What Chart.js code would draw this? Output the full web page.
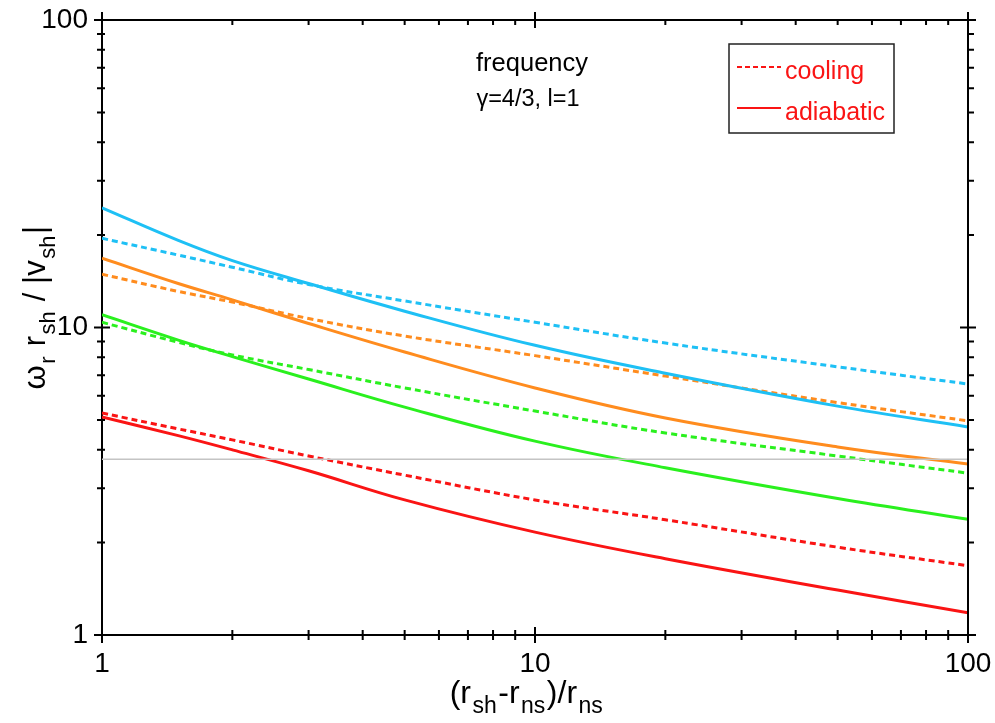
<!DOCTYPE html>
<html>
<head>
<meta charset="utf-8">
<script src="https://cdn.jsdelivr.net/npm/chart.js@4.4.0/dist/chart.umd.min.js"></script>
<style>
body{margin:0;background:#fff;}
#wrap{width:995px;height:723px;position:relative;}
</style>
</head>
<body>
<div id="wrap"><canvas id="canvas"></canvas></div>
<script>
// values (log-log)
var xValues = [1, 1.5, 2, 3, 5, 10, 20, 50, 100];
var blueAdiabatic = [24.5, 19.2, 16.5, 13.9, 11.3, 8.75, 7.1, 5.55, 4.75];
var blueCooling = [19.5, 17.2, 15.7, 13.8, 12.2, 10.4, 8.9, 7.45, 6.55];
var orangeAdiabatic = [16.8, 13.9, 12.3, 10.3, 8.32, 6.36, 5.08, 4.09, 3.6];
var orangeCooling = [14.9, 13.1, 12.1, 10.7, 9.38, 8.1, 6.95, 5.7, 4.97];
var greenAdiabatic = [11.0, 9.1, 8.04, 6.8, 5.51, 4.27, 3.5, 2.78, 2.38];
var greenCooling = [10.4, 8.95, 8.14, 7.3, 6.36, 5.35, 4.54, 3.82, 3.36];
var redAdiabatic = [5.12, 4.45, 4.0, 3.42, 2.75, 2.16, 1.77, 1.40, 1.18];
var redCooling = [5.27, 4.68, 4.31, 3.82, 3.31, 2.75, 2.37, 1.93, 1.68];
var refLevel = 3.73;
var majorTicks = [1, 10, 100];

var FONT = "'Liberation Sans', Arial, Helvetica, sans-serif";

function pts(ys){
  var out = [];
  for (var i = 0; i < xValues.length; i++) out.push({x: xValues[i], y: ys[i]});
  return out;
}

function series(ys, color, dashed){
  return {
    data: pts(ys),
    borderColor: color,
    borderWidth: 3,
    borderDash: dashed ? [6, 4] : [],
    pointRadius: 0,
    fill: false,
    tension: 0.4
  };
}

var blue = "#1ec0f5", orange = "#ff8c1e", green = "#2af01e", red = "#fa1414";

var data = {
  datasets: [
    {data: [{x: 1, y: refLevel}, {x: 100, y: refLevel}], borderColor: "#c4c4c4", borderWidth: 1.5, pointRadius: 0},
    series(blueCooling, blue, true),
    series(blueAdiabatic, blue, false),
    series(orangeCooling, orange, true),
    series(orangeAdiabatic, orange, false),
    series(greenCooling, green, true),
    series(greenAdiabatic, green, false),
    series(redCooling, red, true),
    series(redAdiabatic, red, false)
  ]
};

function drawPieces(ctx, pieces, x, y, big, small){
  // pieces: [text, isSub]; centred on x
  var gap = 1.5, total = 0;
  pieces.forEach(function(p){
    ctx.font = (p[1] ? small : big) + "px " + FONT;
    total += ctx.measureText(p[0]).width + gap;
  });
  var cx = x - total / 2;
  pieces.forEach(function(p){
    ctx.font = (p[1] ? small : big) + "px " + FONT;
    ctx.fillText(p[0], cx, y + (p[1] ? 10 : 0));
    cx += ctx.measureText(p[0]).width + gap;
  });
}

var decorations = {
  id: 'decorations',
  afterDraw: function(chart){
    var ctx = chart.ctx, a = chart.chartArea;
    var xs = chart.scales.x, ys = chart.scales.y;
    ctx.save();
    ctx.strokeStyle = "#000";
    ctx.lineWidth = 2;
    // top and right frame
    ctx.beginPath();
    ctx.moveTo(a.left, a.top); ctx.lineTo(a.right, a.top);
    ctx.moveTo(a.right, a.top); ctx.lineTo(a.right, a.bottom);
    ctx.stroke();

    // tick marks
    ctx.beginPath();
    for (var d = 1; d <= 100; d *= 10) {
      for (var m = 1; m < 10; m++) {
        var v = m * d;
        if (v > 100) break;
        var major = (m === 1);
        var px = xs.getPixelForValue(v), py = ys.getPixelForValue(v);
        var L = major ? 8 : 5;
        ctx.moveTo(px, a.bottom + L); ctx.lineTo(px, a.bottom - L);
        ctx.moveTo(px, a.top + L); ctx.lineTo(px, a.top - (major ? L : 0));
        ctx.moveTo(a.left - L, py); ctx.lineTo(a.left + (major ? L : 3), py);
        ctx.moveTo(a.right - (major ? L : 0), py); ctx.lineTo(a.right + (major ? L : 6), py);
      }
    }
    ctx.stroke();

    // annotation text
    ctx.fillStyle = "#000";
    ctx.textAlign = "center";
    ctx.textBaseline = "alphabetic";
    ctx.font = "25.5px " + FONT;
    ctx.fillText("frequency", 532, 71);
    ctx.font = "23.5px " + FONT;
    ctx.fillText("\u03b3=4/3, l=1", 528, 106);

    // legend box
    ctx.lineWidth = 1.5;
    ctx.strokeStyle = "#222";
    ctx.strokeRect(729, 44, 165, 89);
    ctx.strokeStyle = red;
    ctx.lineWidth = 2;
    ctx.setLineDash([5, 3]);
    ctx.beginPath(); ctx.moveTo(737, 67); ctx.lineTo(781, 67); ctx.stroke();
    ctx.setLineDash([]);
    ctx.beginPath(); ctx.moveTo(737, 108); ctx.lineTo(781, 108); ctx.stroke();
    ctx.fillStyle = red;
    ctx.textAlign = "left";
    ctx.font = "25px " + FONT;
    ctx.fillText("cooling", 785, 79);
    ctx.fillText("adiabatic", 785, 120);

    // axis titles
    ctx.fillStyle = "#000";
    drawPieces(ctx, [["(r", false], ["sh", true], ["-r", false], ["ns", true], [")/r", false], ["ns", true]], 527, 703, 32, 23);

    ctx.translate(45, 307);
    ctx.rotate(-Math.PI / 2);
    drawPieces(ctx, [["\u03c9", false], ["r", true], [" r", false], ["sh", true], [" / |v", false], ["sh", true], ["|", false]], 0, 0, 31, 22);
    ctx.restore();
  }
};

function tickLabel(value){
  return majorTicks.indexOf(value) >= 0 ? String(value) : '';
}

var ctx = document.getElementById("canvas").getContext("2d");
var chart = new Chart(ctx, {
  type: 'line',
  data: data,
  plugins: [decorations],
  options: {
    responsive: true,
    maintainAspectRatio: false,
    animation: false,
    layout: {padding: {top: 20, right: 27, left: 0, bottom: 0}},
    plugins: {legend: {display: false}, tooltip: {enabled: false}},
    scales: {
      x: {
        type: 'logarithmic', min: 1, max: 100,
        grid: {display: false, drawTicks: false},
        border: {display: true, color: "#000", width: 2},
        ticks: {autoSkip: false, maxRotation: 0, padding: 12, color: "#000",
                font: {family: FONT, size: 28}, callback: tickLabel},
        afterFit: function(s){ s.height = 88; s.paddingLeft = 0; s.paddingRight = 0; }
      },
      y: {
        type: 'logarithmic', min: 1, max: 100,
        grid: {display: false, drawTicks: false},
        border: {display: true, color: "#000", width: 2},
        ticks: {autoSkip: false, padding: 14, color: "#000",
                font: {family: FONT, size: 28}, callback: tickLabel},
        afterFit: function(s){ s.width = 102; s.paddingTop = 0; s.paddingBottom = 0; }
      }
    }
  }
});
</script>
</body>
</html>
